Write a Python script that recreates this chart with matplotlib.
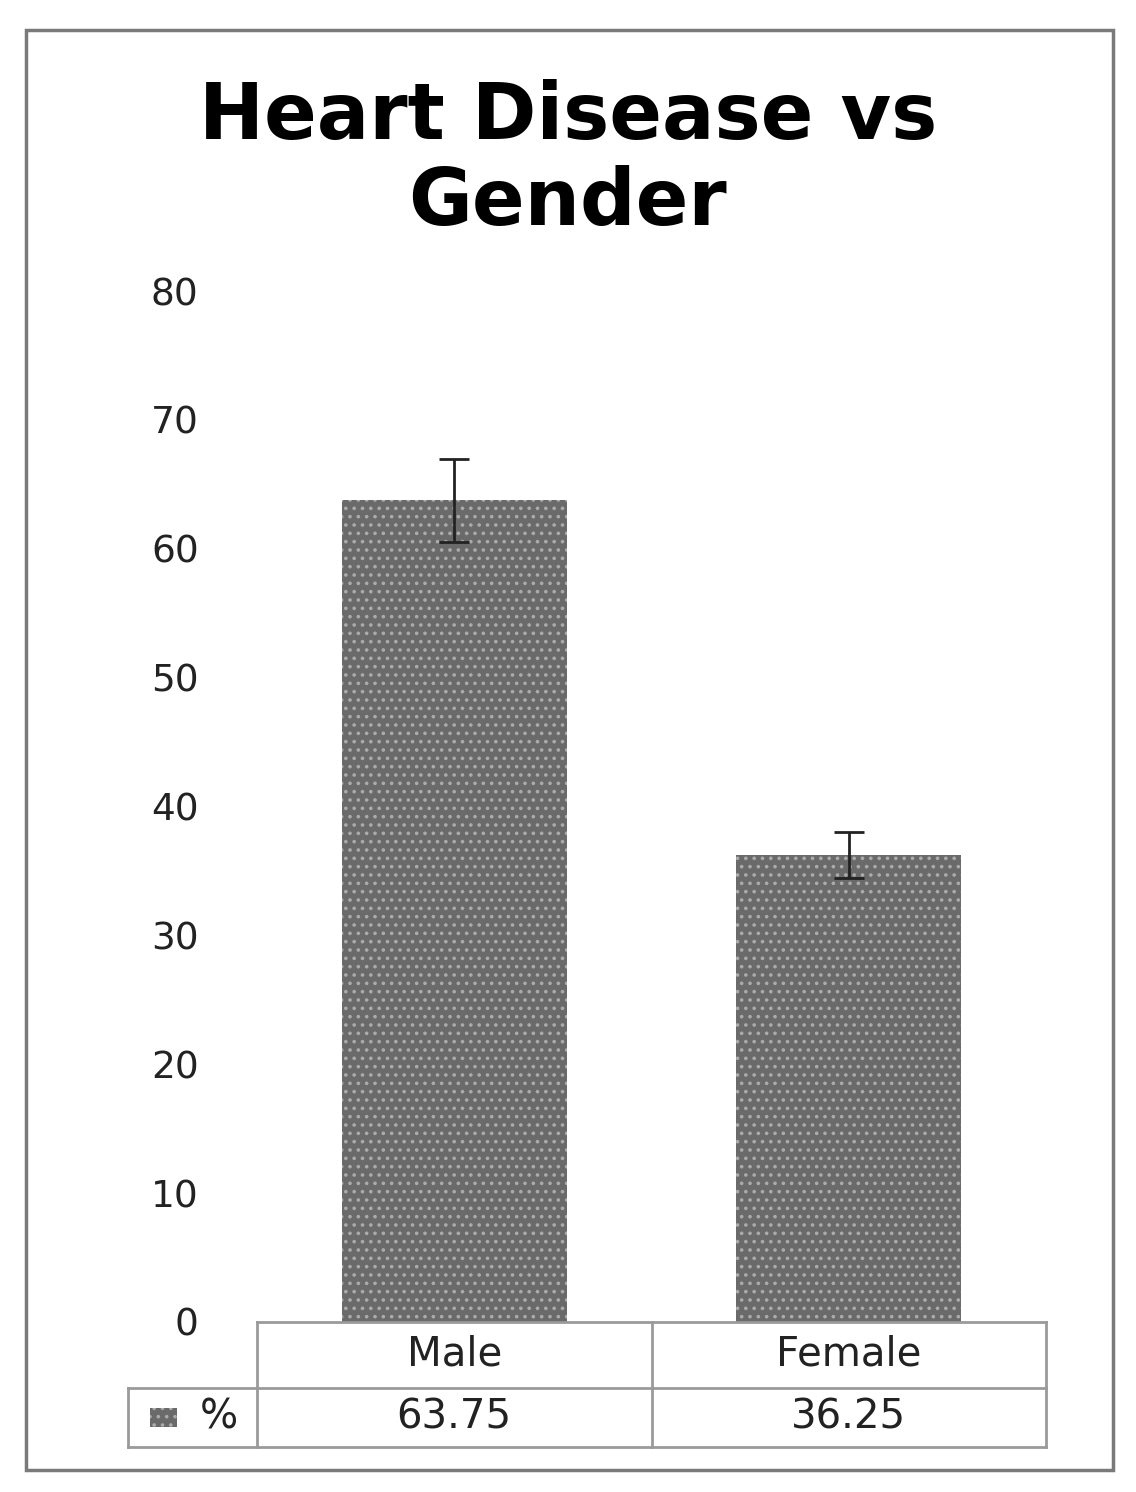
import matplotlib.pyplot as plt
from matplotlib.patches import Rectangle
from matplotlib.lines import Line2D
import numpy as np

# Données
categories = ['Male', 'Female']
pourcentages = [63.75, 36.25]
erreurs = [3.2, 1.8]
serie = '%'
yticks = [0, 10, 20, 30, 40, 50, 60, 70, 80]

plt.rcParams['font.family'] = ['DejaVu Sans']
plt.rcParams['hatch.linewidth'] = 1.4

W, H = 1136, 1492
fig = plt.figure(figsize=(W / 100, H / 100), dpi=100)

# Cadre extérieur
fig.patches.append(Rectangle((26 / W, 1 - 1470 / H), (1113 - 26) / W, (1470 - 30) / H,
                             transform=fig.transFigure, fill=False,
                             edgecolor='#7a7a7a', linewidth=2.5))

ax = fig.add_axes([257 / W, 1 - 1322 / H, (1046 - 257) / W, (1322 - 291) / H])
x = np.arange(len(categories))

ax.bar(x, pourcentages, 0.57, color='#6a6a6a', edgecolor='#ababab',
       hatch='..', linewidth=0)
ax.errorbar(x, pourcentages, yerr=erreurs, fmt='none', ecolor='#222222',
            elinewidth=2, capsize=11, capthick=2)

ax.set_xlim(-0.5, len(categories) - 0.5)
ax.set_ylim(0, 80)
ax.set_yticks(yticks)
ax.set_yticklabels([str(t) for t in yticks], fontsize=27, color='#222222')
ax.tick_params(axis='y', length=0, pad=42)
ax.set_xticks([])
for s in ax.spines.values():
    s.set_visible(False)

fig.suptitle('Heart Disease vs\nGender', x=0.5, y=1 - 160 / H, fontsize=56,
             fontweight='bold', linespacing=1.18, va='center')

# Tableau de données sous l'axe (style Excel)
tr = ax.get_xaxis_transform()
h1 = -66 / 1031
h2 = -125 / 1031
xg = -0.5 - 129 / 789 * len(categories)
lc = '#9a9a9a'
lw = 2
bords = [([-0.5, 1.5], [0, 0]), ([xg, 1.5], [h1, h1]), ([xg, 1.5], [h2, h2]),
         ([xg, xg], [h1, h2])]
for i in range(len(categories) + 1):
    bords.append(([i - 0.5, i - 0.5], [0, h2]))
for xs, ys in bords:
    ax.add_line(Line2D(xs, ys, transform=tr, color=lc, linewidth=lw, clip_on=False))

for i, (c, v) in enumerate(zip(categories, pourcentages)):
    ax.text(i, h1 / 2, c, transform=tr, ha='center', va='center',
            fontsize=29, color='#222222', clip_on=False)
    ax.text(i, (h1 + h2) / 2, f'{v:.2f}', transform=tr, ha='center', va='center',
            fontsize=29, color='#222222', clip_on=False)

ax.add_patch(Rectangle((xg + 0.055, (h1 + h2) / 2 - 0.009), 0.07, 0.018,
                       transform=tr, facecolor='#6a6a6a', edgecolor='#ababab',
                       hatch='..', linewidth=0, clip_on=False))
ax.text(xg + 0.23, (h1 + h2) / 2, serie, transform=tr, ha='center', va='center',
        fontsize=29, color='#222222', clip_on=False)

fig.savefig('out.png', dpi=100)
